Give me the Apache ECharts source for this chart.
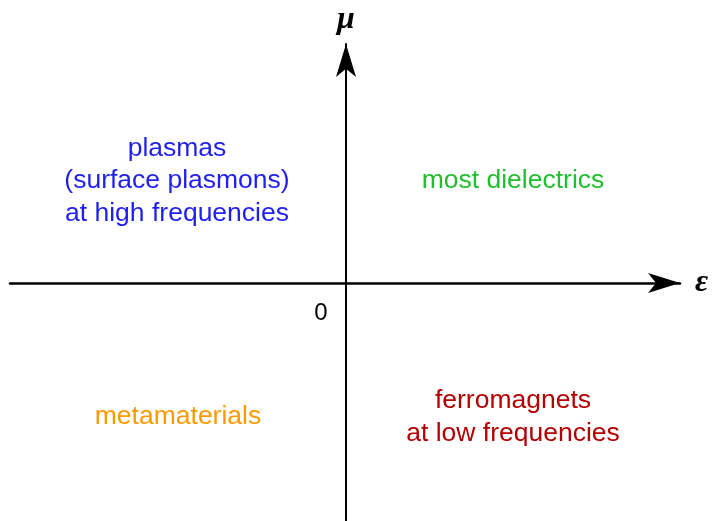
<!DOCTYPE html>
<html><head><meta charset="utf-8">
<script src="https://cdn.jsdelivr.net/npm/echarts@6/dist/echarts.min.js"></script>
<style>html,body{margin:0;padding:0;background:#fff}#c{width:712px;height:521px}</style>
</head><body><div id="c"></div>
<script>
// Region labels (quadrants of the epsilon-mu plane)
const regionTexts = ['plasmas\n(surface plasmons)\nat high frequencies', 'most dielectrics', 'metamaterials', 'ferromagnets\nat low frequencies'];
const regionX = [-169, 167, -168, 167];
const regionY = [102, 102, -134, -134];
const regionColors = ['#1f1ff0', '#1fbf2f', '#ff9900', '#b30000'];
const originLabel = ['0'];
const originX = [-25];
const originY = [-30];
const xName = 'ε';
const yName = 'μ';

const fontFam = '"Liberation Sans", Arial, sans-serif';
const chart = echarts.init(document.getElementById('c'), null, {renderer: 'canvas'});
const regionData = regionTexts.map((t, i) => ({
  name: t, value: [regionX[i], regionY[i]],
  label: {color: regionColors[i]}
}));
const originData = originLabel.map((t, i) => ({name: t, value: [originX[i], originY[i]]}));
chart.setOption({
  animation: false,
  backgroundColor: '#fff',
  grid: {left: 10, right: 32, top: 44, bottom: 0},
  xAxis: {
    type: 'value', min: -336, max: 334,
    name: xName, nameLocation: 'end', nameGap: 15,
    nameTextStyle: {fontFamily: '"Liberation Serif", serif', fontStyle: 'italic', fontWeight: 'bold', fontSize: 32, color: '#000', verticalAlign: 'middle', padding: [0, 0, 4, 0]},
    axisLine: {onZero: true, symbol: ['none', 'arrow'], symbolSize: [15, 32], lineStyle: {color: '#000', width: 2.5}},
    axisTick: {show: false}, axisLabel: {show: false}, splitLine: {show: false}
  },
  yAxis: {
    type: 'value', min: -238, max: 239,
    name: yName, nameLocation: 'end', nameGap: 8,
    nameTextStyle: {fontFamily: '"Liberation Serif", serif', fontStyle: 'italic', fontWeight: 'bold', fontSize: 32, color: '#000', align: 'center'},
    axisLine: {onZero: true, symbol: ['none', 'arrow'], symbolSize: [15, 33], lineStyle: {color: '#000', width: 2}},
    axisTick: {show: false}, axisLabel: {show: false}, splitLine: {show: false}
  },
  series: [
    {
      type: 'scatter', data: regionData, symbolSize: 1,
      itemStyle: {color: 'rgba(0,0,0,0)', opacity: 1},
      emphasis: {disabled: true},
      label: {show: true, position: 'inside', formatter: '{b}', fontFamily: fontFam, fontSize: 26.5, lineHeight: 32.5, align: 'center', verticalAlign: 'middle'}
    },
    {
      type: 'scatter', data: originData, symbolSize: 1,
      itemStyle: {color: 'rgba(0,0,0,0)', opacity: 1},
      emphasis: {disabled: true},
      label: {show: true, position: 'inside', formatter: '{b}', fontFamily: fontFam, fontSize: 24, color: '#000', align: 'center', verticalAlign: 'middle'}
    }
  ]
});
</script></body></html>
